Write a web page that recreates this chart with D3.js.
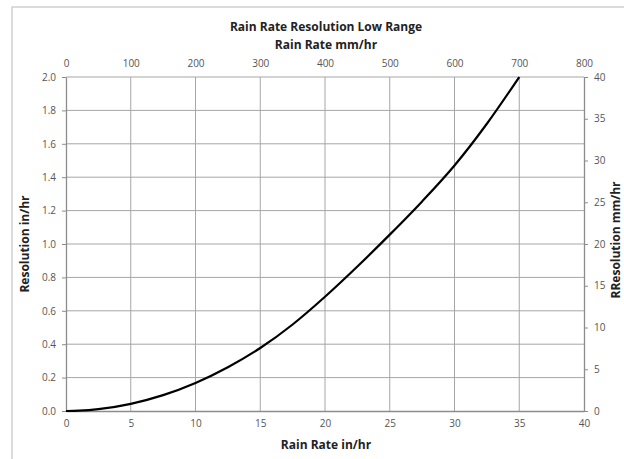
<!DOCTYPE html>
<html><head><meta charset="utf-8">
<script src="https://cdn.jsdelivr.net/npm/d3@7"></script>
<style>body{margin:0;background:#fff;}svg{display:block;font-family:"Open Sans",sans-serif;}</style>
</head><body>
<svg id="c" width="624" height="459"></svg>
<script>
const rateIn = [0, 1, 2.5, 5, 7.5, 10, 12.5, 15, 17.5, 20, 22.5, 25, 27.5, 30, 32.5, 35];
const resolutionIn = [0, 0.002, 0.011, 0.043, 0.095, 0.168, 0.262, 0.377, 0.518, 0.684, 0.865, 1.056, 1.255, 1.47, 1.72, 2.0];
const bottomTicks = [0, 5, 10, 15, 20, 25, 30, 35, 40];
const topTicks = [0, 100, 200, 300, 400, 500, 600, 700, 800];
const leftTicks = [0, 0.2, 0.4, 0.6, 0.8, 1.0, 1.2, 1.4, 1.6, 1.8, 2.0];
const rightTicks = [0, 5, 10, 15, 20, 25, 30, 35, 40];

const svg = d3.select("#c");
const L = 66, R = 584, T = 77, B = 411;
const x = d3.scaleLinear().domain([0, 40]).range([L, R]);
const x2 = d3.scaleLinear().domain([0, 800]).range([L, R]);
const y = d3.scaleLinear().domain([0, 2]).range([B, T]);
const y2 = d3.scaleLinear().domain([0, 40]).range([B, T]);

svg.append("rect").attr("x", 12).attr("y", 7).attr("width", 640).attr("height", 470)
  .attr("fill", "none").attr("stroke", "#c4c4c4").attr("stroke-width", 1.2);

// gridlines
svg.append("g").selectAll("line").data(bottomTicks.slice(1, -1)).join("line")
  .attr("x1", d => x(d)).attr("x2", d => x(d)).attr("y1", T).attr("y2", B)
  .attr("stroke", "#a6a6a6").attr("stroke-width", 1);
svg.append("g").selectAll("line").data(leftTicks.slice(1)).join("line")
  .attr("x1", L).attr("x2", R).attr("y1", d => y(d)).attr("y2", d => y(d))
  .attr("stroke", "#a6a6a6").attr("stroke-width", 1);

function styleAxis(g) {
  g.selectAll(".domain").attr("stroke", "#8c8c8c").attr("stroke-width", 1.3);
  g.selectAll(".tick line").attr("stroke", "#8c8c8c");
  g.selectAll(".tick text").attr("fill", "#555").attr("font-size", "10px").attr("font-family", "Open Sans, sans-serif");
}
svg.append("g").attr("transform", `translate(0,${B})`)
  .call(d3.axisBottom(x).tickValues(bottomTicks).tickSize(0).tickPadding(9).tickFormat(d3.format("d")))
  .call(styleAxis);
svg.append("g").attr("transform", `translate(0,${T})`)
  .call(d3.axisTop(x2).tickValues(topTicks).tickSize(0).tickPadding(10).tickFormat(d3.format("d")))
  .call(styleAxis).call(g => g.select(".domain").remove());
svg.append("g").attr("transform", `translate(${L},0)`)
  .call(d3.axisLeft(y).tickValues(leftTicks).tickSize(4).tickSizeOuter(0).tickPadding(6).tickFormat(d3.format(".1f")))
  .call(styleAxis);
svg.append("g").attr("transform", `translate(${R},0)`)
  .call(d3.axisRight(y2).tickValues(rightTicks).tickSize(4).tickSizeOuter(0).tickPadding(6).tickFormat(d3.format("d")))
  .call(styleAxis);

// curve
const pts = rateIn.map((r, i) => [r, resolutionIn[i]]);
svg.append("path").datum(pts)
  .attr("d", d3.line().x(d => x(d[0])).y(d => y(d[1])).curve(d3.curveMonotoneX))
  .attr("fill", "none").attr("stroke", "#000").attr("stroke-width", 2.2);

// titles
const tcol = "#222";
svg.append("text").attr("x", 326).attr("y", 31).attr("text-anchor", "middle")
  .attr("font-size", "12px").attr("font-weight", "bold").attr("fill", tcol).text("Rain Rate Resolution Low Range");
svg.append("text").attr("x", 326).attr("y", 49).attr("text-anchor", "middle")
  .attr("font-size", "12px").attr("font-weight", "bold").attr("fill", tcol).text("Rain Rate mm/hr");
svg.append("text").attr("x", 326).attr("y", 449).attr("text-anchor", "middle")
  .attr("font-size", "12px").attr("font-weight", "bold").attr("fill", tcol).text("Rain Rate in/hr");
svg.append("text").attr("transform", "translate(29,244) rotate(-90)").attr("text-anchor", "middle")
  .attr("font-size", "12px").attr("font-weight", "bold").attr("fill", tcol).text("Resolution in/hr");
svg.append("text").attr("transform", "translate(620,240) rotate(-90)").attr("text-anchor", "middle")
  .attr("font-size", "12px").attr("font-weight", "bold").attr("fill", tcol).text("RResolution mm/hr");
</script>
</body></html>
